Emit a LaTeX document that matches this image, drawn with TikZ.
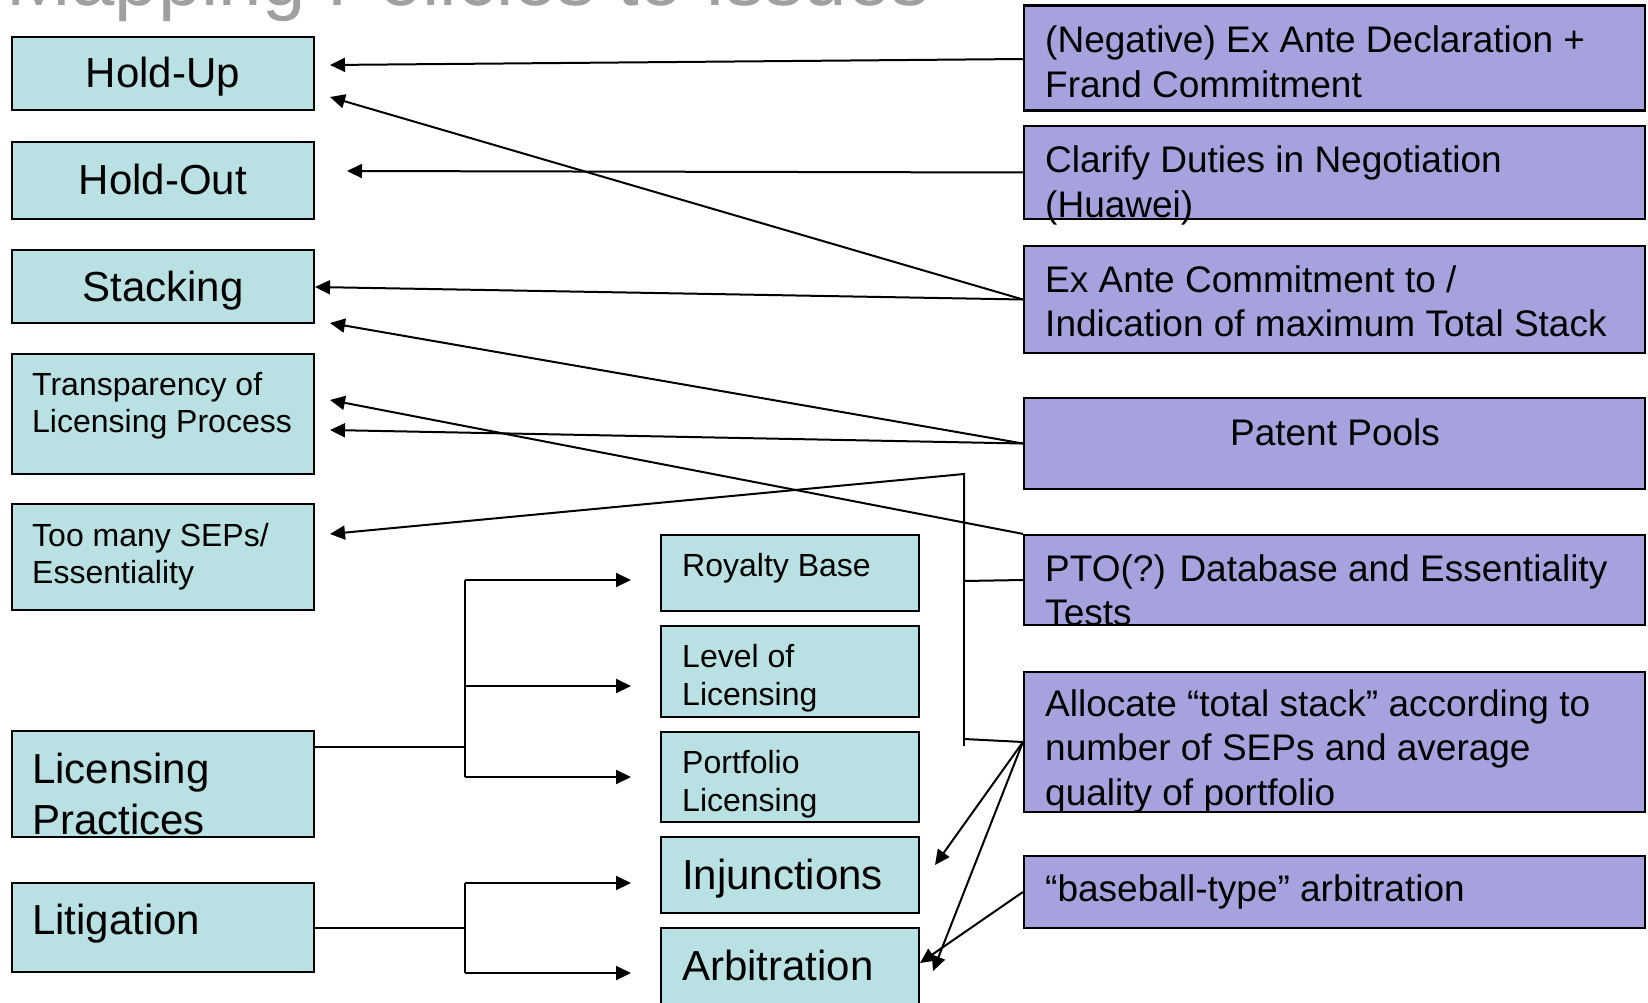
\documentclass[tikz,border=0pt]{standalone}
\usepackage{fontspec}
\setmainfont{Liberation Sans}
\usetikzlibrary{arrows.meta,calc}
\definecolor{tealfill}{RGB}{185,224,226}
\definecolor{purpfill}{RGB}{165,162,222}
\definecolor{titlegray}{RGB}{160,160,160}
\tikzset{
  tbox/.style={draw=black, line width=2.2pt, fill=tealfill, inner sep=0pt},
  pbox/.style={draw=black, line width=2.2pt, fill=purpfill, inner sep=0pt},
  conn/.style={line width=2pt, -{Triangle[length=15pt,width=14pt]}},
  plain/.style={line width=2pt},
  big/.style={font=\fontsize{42}{50}\selectfont},
  small/.style={font=\fontsize{32}{37}\selectfont},
  mid/.style={font=\fontsize{37}{44.5}\selectfont},
  txt/.style={inner sep=0pt, anchor=base west, align=left},
}
\begin{document}
\begin{tikzpicture}[x=1pt,y=-1pt]
\clip (0,0) rectangle (1648,1003);
\fill[white] (0,0) rectangle (1648,1003);
% title (cut off at top)
\node[inner sep=0pt, anchor=base east, text=titlegray, font=\fontsize{78}{90}\selectfont] (title) at (930,6) {Mapping Policies to Issues};
% left column
\node[tbox, minimum width=302pt, minimum height=73pt] (holdup) at (163,73.5) {};
\node[tbox, minimum width=302pt, minimum height=77pt] (holdout) at (163,180.5) {};
\node[tbox, minimum width=302pt, minimum height=73pt] (stacking) at (163,286.5) {};
\node[inner sep=0pt, anchor=base, big] (holdupT) at (163,88) {Hold-Up};
\node[inner sep=0pt, anchor=base, big] (holdoutT) at (163,194) {Hold-Out};
\node[inner sep=0pt, anchor=base, big] (stackingT) at (163,301) {Stacking};
\node[tbox, minimum width=302pt, minimum height=120pt] (transp) at (163,414) {};
\node[tbox, minimum width=302pt, minimum height=106pt] (toomany) at (163,557) {};
\node[tbox, minimum width=302pt, minimum height=106pt] (licprac) at (163,784) {};
\node[tbox, minimum width=302pt, minimum height=89pt] (litig) at (163,927.5) {};
% (multi-line nodes: base anchor = baseline of the last line)
\node[txt, small] (transpT) at (32,432) {Transparency of\\Licensing Process};
\node[txt, small] (toomanyT) at (32,583) {Too many SEPs/\\Essentiality};
\node[txt, font=\fontsize{42}{51}\selectfont] (licpracT) at (32,834) {Licensing\\Practices};
\node[txt, big] (litigT) at (32,934) {Litigation};
% middle column
\node[tbox, minimum width=258pt, minimum height=76pt] (royalty) at (790,573) {};
\node[tbox, minimum width=258pt, minimum height=91pt] (level) at (790,671.5) {};
\node[tbox, minimum width=258pt, minimum height=90pt] (portfolio) at (790,777) {};
\node[tbox, minimum width=258pt, minimum height=76pt] (injunct) at (790,875) {};
\node[tbox, minimum width=258pt, minimum height=82pt] (arbit) at (790,969) {};
\node[txt, small] (royaltyT) at (682,576) {Royalty Base};
\node[txt, font=\fontsize{32}{38}\selectfont] (levelT) at (682,705) {Level of\\Licensing};
\node[txt, font=\fontsize{32}{38}\selectfont] (portfolioT) at (682,811) {Portfolio\\Licensing};
\node[txt, big] (injunctT) at (682,889) {Injunctions};
\node[txt, big] (arbitT) at (682,980) {Arbitration};
% right column
\node[pbox, minimum width=621pt, minimum height=105pt] (neg) at (1334.5,58) {};
\node[pbox, minimum width=621pt, minimum height=93pt] (clarify) at (1334.5,172.5) {};
\node[pbox, minimum width=621pt, minimum height=107pt] (exante) at (1334.5,299.5) {};
\node[pbox, minimum width=621pt, minimum height=91pt] (pools) at (1334.5,443.5) {};
\node[pbox, minimum width=621pt, minimum height=90pt] (pto) at (1334.5,580) {};
\node[pbox, minimum width=621pt, minimum height=140pt] (alloc) at (1334.5,742) {};
\node[pbox, minimum width=621pt, minimum height=72pt] (baseball) at (1334.5,892) {};
\node[txt, mid] (negT) at (1045,97.5) {(Negative) Ex Ante Declaration +\\Frand Commitment};
\node[txt, mid] (clarifyT) at (1045,217.5) {Clarify Duties in Negotiation\\(Huawei)};
\node[txt, mid] (exanteT) at (1045,336.5) {Ex Ante Commitment to /\\Indication of maximum Total Stack};
\node[inner sep=0pt, anchor=base, mid] (poolsT) at (1335,445) {Patent Pools};
\node[txt, mid] (ptoT) at (1045,625.5) {PTO(?) Database and Essentiality\\Tests};
\node[txt, mid] (allocT) at (1045,805) {Allocate “total stack” according to\\number of SEPs and average\\quality of portfolio};
\node[txt, mid] (baseballT) at (1045,901) {“baseball-type” arbitration};
% arrow tips and bends
\coordinate (t1) at (330,65);
\coordinate (t2) at (330,97);
\coordinate (t3) at (347,171);
\coordinate (t4) at (315,287);
\coordinate (t5) at (330,323);
\coordinate (t6) at (330,430);
\coordinate (t7) at (330,400);
\coordinate (t8) at (330,534);
\coordinate (vtop) at (964,474);
\coordinate (vpto) at (964,581);
\coordinate (valloc) at (964,739);
\coordinate (vbot) at (964,746);
\coordinate (t10) at (935,865);
\coordinate (t11) at (933,971);
\coordinate (t12) at (920,963);
% right to left connectors
\draw[conn] (1024,59) -- (t1);
\draw[conn] (exante.west) -- (t2);
\draw[conn] (clarify.west) -- (t3);
\draw[conn] (exante.west) -- (t4);
\draw[conn] (pools.west) -- (t5);
\draw[conn] (pools.west) -- (t6);
\draw[conn] (pto.north west) -- (t7);
\draw[conn] (pto.west) -- (vpto) -- (vtop) -- (t8);
\draw[plain] (alloc.west) -- (valloc);
\draw[plain] (vpto) -- (vbot);
\draw[conn] (alloc.west) -- (t10);
\draw[conn] (alloc.west) -- (t11);
\draw[conn] (baseball.west) -- (t12);
% left elbows
\coordinate (lp) at (314,747);
\coordinate (lpv) at (465,747);
\coordinate (lpa) at (465,580);
\coordinate (lpb) at (465,686);
\coordinate (lpc) at (465,777);
\draw[plain] (lp) -- (lpv);
\draw[plain] (lpa) -- (lpc);
\draw[conn] (lpa) -- (631,580);
\draw[conn] (lpb) -- (631,686);
\draw[conn] (lpc) -- (631,777);
\coordinate (li) at (314,928);
\coordinate (liv) at (465,928);
\coordinate (lia) at (465,883);
\coordinate (lib) at (465,973);
\draw[plain] (li) -- (liv);
\draw[plain] (lia) -- (lib);
\draw[conn] (lia) -- (631,883);
\draw[conn] (lib) -- (631,973);
\end{tikzpicture}
\end{document}
